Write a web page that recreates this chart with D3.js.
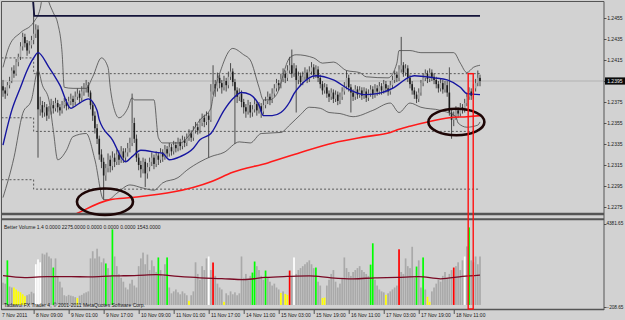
<!DOCTYPE html>
<html>
<head>
<meta charset="utf-8">
<script src="https://cdn.jsdelivr.net/npm/d3@7"></script>
<style>
  body { margin: 0; background: #d2d2d2; }
  svg { display: block; }
  text { font-family: "Liberation Sans", Arial, sans-serif; }
</style>
</head>
<body>
<svg id="drawing_region"></svg>
<script>
// H1 bars, prices in pips above 1.2000 (395 -> 1.2395)
const opens = [
  390,386,383,391,395,405,402,413,418,428, 437,431,424,429,434,440,444,368,372,365,
  370,362,366,372,369,374,370,367,372,375, 371,376,378,375,380,383,379,385,388,391,
  384,372,362,350,340,325,318,305,312,320, 314,322,318,325,320,328,322,327,331,336,
  355,340,322,315,311,318,307,313,318,322, 316,324,320,327,323,330,326,332,328,334,
  331,337,333,339,336,341,345,341,348,351, 348,355,360,356,362,358,385,392,388,398,
  393,389,395,391,399,404,394,386,380,383, 375,370,366,372,365,368,373,367,371,366,
  372,376,380,377,383,388,393,391,397,402, 398,405,410,402,407,396,400,394,399,403,
  397,404,408,401,406,398,392,386,389,383, 380,384,378,382,376,380,385,390,398,389,
  384,380,387,382,386,381,385,379,383,387, 382,388,385,390,386,392,388,385,391,396,
  401,398,406,410,403,407,398,392,386,382, 378,384,393,398,402,397,403,399,396,392,
  388,393,387,391,384,365,358,362,367,364, 370,368,374,380,385,381,388,393,398
];
const highs = [
  396,389,394,399,408,410,416,421,432,441, 440,434,433,438,478,449,448,380,376,375,
  373,371,378,376,379,377,373,376,379,378, 380,383,381,385,388,386,390,393,396,394,
  386,375,366,354,343,330,322,316,326,324, 328,326,330,329,333,331,331,336,341,383,
  360,344,326,319,322,321,317,322,327,325, 328,327,331,330,334,333,336,335,338,337,
  341,340,343,342,345,349,348,352,356,354, 359,364,363,366,365,392,410,396,403,401,
  396,400,398,404,412,407,397,389,388,386, 378,373,377,375,372,378,376,375,374,377,
  380,385,383,388,392,397,396,402,407,405, 410,418,425,412,410,404,403,404,408,406,
  409,413,411,410,409,401,395,393,392,386, 388,387,386,385,384,389,394,405,401,392,
  387,391,390,390,389,389,388,387,391,390, 392,391,394,393,396,395,391,395,400,405,
  404,410,437,413,411,410,401,395,389,385, 388,396,402,406,405,407,406,402,399,395,
  397,396,395,395,408,368,366,371,370,374, 373,378,384,389,388,392,397,405,401
];
const lows = [
  380,378,381,388,393,398,400,409,415,424, 427,419,421,426,430,436,322,362,360,361,
  357,359,363,364,366,365,362,364,369,367, 368,372,370,372,377,374,376,381,384,380,
  368,357,345,335,320,312,282,300,308,308, 310,313,315,315,317,317,318,323,327,333,
  336,318,310,303,307,294,302,309,314,311, 313,315,317,318,320,322,323,324,325,327,
  328,329,330,332,333,338,337,338,345,344, 345,352,351,353,322,356,382,380,385,388,
  383,386,385,388,396,390,335,374,376,370, 364,360,363,360,361,365,362,364,360,363,
  369,373,372,374,380,385,386,388,394,393, 395,402,398,399,365,392,390,391,396,393,
  394,401,397,398,394,388,382,383,379,375, 377,374,375,372,373,377,382,387,385,365,
  376,377,378,379,377,378,375,376,380,378, 379,381,382,382,383,384,381,382,388,393,
  394,395,403,399,400,394,388,382,378,374, 375,381,390,395,393,394,395,392,388,384,
  385,383,384,380,362,340,352,358,360,361, 364,365,371,377,377,378,385,390,390
];
const closes = [
  386,383,391,395,405,402,413,418,428,437, 431,424,429,434,440,444,368,372,365,370,
  362,366,372,369,374,370,367,372,375,371, 376,378,375,380,383,379,385,388,391,384,
  372,362,350,340,325,318,305,312,320,314, 322,318,325,320,328,322,327,331,336,355,
  340,322,315,311,318,307,313,318,322,316, 324,320,327,323,330,326,332,328,334,331,
  337,333,339,336,341,345,341,348,351,348, 355,360,356,362,358,385,392,388,398,393,
  389,395,391,399,404,394,386,380,383,375, 370,366,372,365,368,373,367,371,366,372,
  376,380,377,383,388,393,391,397,402,398, 405,410,402,407,396,400,394,399,403,397,
  404,408,401,406,398,392,386,389,383,380, 384,378,382,376,380,385,390,398,389,384,
  380,387,382,386,381,385,379,383,387,382, 388,385,390,386,392,388,385,391,396,401,
  398,406,410,403,407,398,392,386,382,378, 384,393,398,402,397,403,399,396,392,388,
  393,387,391,384,365,358,362,367,364,370, 368,374,380,385,381,388,393,398,395
];

const volumes = [
  1150,1100,2300,950,900,900,800,700,650,550, 450,500,550,680,600,2100,2350,2200,2650,2600,
  2700,2500,2400,1930,2400,1500,1200,900,500,450, 520,480,450,400,360,480,520,600,650,700,
  2400,2770,2400,2900,2500,2200,2400,2140,1900,1500, 3900,2500,2000,1600,1400,1200,900,800,1100,1300,
  1000,900,2000,2400,2700,2100,2600,1800,2300,2000, 1700,2450,1800,1500,2100,2450,900,600,700,800,
  650,550,700,600,500,210,500,700,2200,1600, 1300,2000,1800,2400,2500,1800,2190,1500,1100,900,
  800,160,600,500,700,550,650,500,600,2500, 1400,1600,1300,1500,1670,2240,2000,1800,1500,1300,
  1775,1400,1200,1000,1100,900,800,620,700,570, 520,1775,1500,2450,1600,1800,1900,2000,2100,2200,
  2300,2100,1900,1930,1200,1000,360,380,1000,1300, 1600,1800,1200,900,1100,1400,2450,1900,1700,1500,
  1700,1800,1900,2000,1800,1700,1600,1500,2080,3180, 1300,1000,800,700,650,520,600,700,800,900,
  1000,2870,1700,1600,2400,2000,1900,3000,1400,1980, 2300,900,2450,800,420,160,700,900,1100,1300,
  1200,1500,1700,1400,1600,1800,1930,2000,2200,1800, 2300,2500,3020,4000,2300,2200,2500,2100,2500
];
// g gray, G green, R red, Y yellow, W white
const volumeKinds =
  "ggGggYYYYY" + "YggggWWWgg" + "gggGgggggg" + "ggggYggggg" + "gggggggGgg" +
  "Gggggggggg" + "gggggggggg" + "gGgggGgggg" + "gggggYgggg" + "ggggWgRggg" +
  "gYgggggggg" + "ggggGGgggg" + "GggggggYgY" + "YRgWgggggg" + "gggGggYYgg" +
  "gggggggggg" + "ggggggggGG" + "gggggYgggg" + "gRgggggggG" + "ggGgYYgggg" +
  "ggggggRggg" + "gWgGggggg";
const volumeMa = [[0,1510],[10,1410],[20,1460],[30,1460],[40,1450],[50,1500],[60,1510],[70,1560],
  [80,1470],[90,1400],[100,1360],[110,1310],[120,1420],[130,1470],[140,1500],[150,1400],[160,1350],
  [170,1400],[180,1420],[190,1460],[200,1350],[210,1470],[218,1543]];

// indicator lines: [bar, pips]
const blueMa = [[0,334],[4,367],[8,389],[11,405],[14,417],[16,422],[21,408],[26,391],[31,369],[35,374],
  [39,378],[43,367],[44,358],[50,339],[56,318],[59,323],[63,329],[70,327],[73,326],[76,320],[81,323],
  [87,331],[90,339],[95,345],[101,367],[105,378],[109,384],[113,382],[117,372],[119,362],[123,362],
  [127,365],[131,375],[133,383],[136,391],[143,400],[151,396],[159,386],[165,382],[171,383],[178,388],
  [186,399],[188,400],[197,398],[203,396],[209,389],[212,383],[218,382]];
const upperBand = [[0,408],[3,429],[8,441],[14,451],[17,464],[19,486],[21,470],[23,460],[25,450],[27,422],
  [28,389],[32,388],[38,388],[41,399],[45,417],[48,408],[49,389],[51,367],[53,360],[57,369],[59,379],
  [60,377],[69,377],[71,341],[73,336],[81,336],[85,343],[90,358],[95,369],[96,380],[99,402],[105,426],
  [110,420],[113,415],[117,389],[119,377],[122,377],[125,382],[131,417],[134,420],[142,417],[146,412],
  [151,413],[157,405],[163,403],[166,399],[176,398],[180,412],[181,424],[186,424],[191,422],[206,422],
  [209,412],[212,403],[215,408],[218,410]];
const lowerBand = [[0,284],[5,322],[9,364],[13,377],[16,405],[18,391],[21,377],[23,348],[25,320],[29,329],
  [32,342],[38,345],[42,320],[46,282],[48,282],[52,288],[58,296],[64,293],[69,291],[73,298],[80,303],
  [84,310],[90,318],[95,323],[101,327],[108,337],[113,336],[118,345],[127,346],[131,353],[136,363],
  [140,370],[145,369],[149,365],[154,364],[160,361],[169,367],[177,374],[181,365],[186,374],[191,370],
  [200,367],[207,361],[208,355],[212,351],[217,353],[218,356]];
const redMa = [[28,263],[34,269],[49,282],[59,284],[95,299],[105,308],[121,317],[136,327],[151,336],
  [166,342],[177,346],[181,349],[186,352],[194,356],[204,360],[212,361],[218,362]];

// stepped dotted levels, they change at bar 14
const levelBreakBar = 14;
const levelsBefore = [417, 360, 301];
const levelsAfter = [402, 347, 292];
const trendLine = [[13.7, 472], [14.3, 457], [218, 457]];
const bidPrice = 395;

const priceTicks = [455, 435, 415, 395, 375, 355, 335, 315, 295, 275];
const volumeRange = [-208.65, 4381.65];
const timeBars = [0, 14, 30, 46, 62, 78, 94, 110, 126, 142, 158, 174, 190, 206];
const timeLabels = ["7 Nov 2011", "8 Nov 09:00", "9 Nov 01:00", "9 Nov 17:00", "10 Nov 09:00",
  "11 Nov 01:00", "11 Nov 17:00", "14 Nov 11:00", "15 Nov 03:00", "15 Nov 19:00", "16 Nov 11:00",
  "17 Nov 03:00", "17 Nov 19:00", "18 Nov 11:00"];

// hand drawn marks
const circles = [{bar: 46.6, price: 280, rBars: 12.8, rPips: 12.6},
                 {bar: 207.2, price: 356, rBars: 12.8, rPips: 12.6}];
const highlight = {from: 212.6, to: 214.9, price: 402};

const volumeColors = {g: '#a9a9a9', G: '#00ff00', R: '#ff0000', Y: '#ffff00', W: '#ffffff'};

class MtChart {
    constructor(config) {
        this.config = config;
        this.init();
    }

    init() {
        let self = this;
        const c = self.config;

        self.svg = d3.select(c.parent)
            .attr('width', c.width)
            .attr('height', c.height);

        self.svg.append('rect')
            .attr('width', c.width).attr('height', c.height)
            .attr('fill', '#d2d2d2');

        self.xscale = d3.scaleLinear()
            .domain([0, closes.length - 1])
            .range([c.firstBarX, c.lastBarX]);
        self.yscale = d3.scaleLinear()
            .domain([275, 455])
            .range([207, 18]);
        self.vscale = d3.scaleLinear()
            .domain(volumeRange)
            .range([c.vol.bottom, c.vol.top]);

        const defs = self.svg.append('defs');
        defs.append('clipPath').attr('id', 'clip-main')
            .append('rect')
            .attr('x', c.left).attr('y', c.main.top)
            .attr('width', c.right - c.left).attr('height', c.main.bottom - c.main.top);

        self.main = self.svg.append('g').attr('clip-path', 'url(#clip-main)');
        self.vol = self.svg.append('g');
        self.top = self.svg.append('g');
    }

    render() {
        let self = this;
        const c = self.config;
        const xs = self.xscale, ys = self.yscale, vs = self.vscale;
        const bars = d3.range(closes.length);

        // dotted levels
        levelsBefore.forEach((lv, k) => {
            const p = d3.path();
            p.moveTo(c.left, ys(lv));
            p.lineTo(xs(levelBreakBar), ys(lv));
            p.lineTo(xs(levelBreakBar), ys(levelsAfter[k]));
            p.lineTo(xs(closes.length - 1), ys(levelsAfter[k]));
            self.main.append('path')
                .attr('d', p.toString())
                .attr('fill', 'none')
                .attr('stroke', '#3a3a3a')
                .attr('stroke-width', 0.8)
                .attr('stroke-dasharray', '2,2');
        });

        // bid line
        self.main.append('line')
            .attr('x1', c.left).attr('x2', c.right)
            .attr('y1', ys(bidPrice)).attr('y2', ys(bidPrice))
            .attr('stroke', '#b2b2b2').attr('stroke-width', 1);

        // candles
        self.main.append('g').selectAll('line')
            .data(bars).join('line')
            .attr('x1', i => xs(i)).attr('x2', i => xs(i))
            .attr('y1', i => ys(highs[i])).attr('y2', i => ys(lows[i]))
            .attr('stroke', '#2a2a2a').attr('stroke-width', 0.8);
        self.main.append('g').selectAll('rect')
            .data(bars).join('rect')
            .attr('x', i => xs(i) - 0.8)
            .attr('width', 1.6)
            .attr('y', i => ys(Math.max(opens[i], closes[i])))
            .attr('height', i => Math.max(0.7, Math.abs(ys(opens[i]) - ys(closes[i]))))
            .attr('fill', i => closes[i] >= opens[i] ? '#a4a4a4' : '#1c1c1c');

        const line = d3.line()
            .x(d => xs(d[0]))
            .y(d => ys(d[1]))
            .curve(d3.curveMonotoneX);

        [upperBand, lowerBand].forEach(band => {
            self.main.append('path')
                .attr('d', line(band))
                .attr('fill', 'none')
                .attr('stroke', '#4a4a4a')
                .attr('stroke-width', 0.8);
        });

        self.main.append('path')
            .attr('d', line(blueMa))
            .attr('fill', 'none')
            .attr('stroke', '#1616a0')
            .attr('stroke-width', 1.4);

        self.main.append('path')
            .attr('d', line(redMa))
            .attr('fill', 'none')
            .attr('stroke', '#ff1a1a')
            .attr('stroke-width', 1.6);

        self.main.append('path')
            .attr('d', d3.line().x(d => xs(d[0])).y(d => ys(d[1]))(trendLine))
            .attr('fill', 'none')
            .attr('stroke', '#14143a')
            .attr('stroke-width', 1.8);

        // volume bars
        self.vol.append('g').selectAll('rect')
            .data(bars).join('rect')
            .attr('x', i => xs(i) - 0.85)
            .attr('width', 1.7)
            .attr('y', i => vs(volumes[i]))
            .attr('height', i => vs(0) - vs(volumes[i]))
            .attr('fill', i => volumeColors[volumeKinds.charAt(i)]);

        self.vol.append('path')
            .attr('d', d3.line().x(d => xs(d[0])).y(d => vs(d[1])).curve(d3.curveMonotoneX)(volumeMa))
            .attr('fill', 'none')
            .attr('stroke', '#7a0a24')
            .attr('stroke-width', 1.3);

        // panel frames
        const frame = self.top.append('g')
            .attr('fill', 'none').attr('stroke', '#555');
        frame.append('line').attr('x1', c.left).attr('x2', c.right)
            .attr('y1', c.main.top).attr('y2', c.main.top).attr('stroke-width', 1);
        frame.append('line').attr('x1', c.left).attr('x2', c.right)
            .attr('y1', c.main.bottom + 0.5).attr('y2', c.main.bottom + 0.5).attr('stroke-width', 2.4);
        frame.append('line').attr('x1', c.left).attr('x2', c.right)
            .attr('y1', c.vol.top - 0.8).attr('y2', c.vol.top - 0.8).attr('stroke-width', 2);
        frame.append('line').attr('x1', c.left).attr('x2', c.right)
            .attr('y1', c.vol.bottom + 0.5).attr('y2', c.vol.bottom + 0.5).attr('stroke-width', 1.4);
        frame.append('line').attr('x1', c.left).attr('x2', c.left)
            .attr('y1', c.main.top).attr('y2', c.vol.bottom + 1).attr('stroke-width', 1);
        frame.append('line').attr('x1', c.right).attr('x2', c.right)
            .attr('y1', c.main.top).attr('y2', c.vol.bottom + 1).attr('stroke-width', 1);

        // annotations
        circles.forEach(e => {
            self.top.append('ellipse')
                .attr('cx', xs(e.bar)).attr('cy', ys(e.price))
                .attr('rx', xs(e.bar + e.rBars) - xs(e.bar))
                .attr('ry', ys(e.price - e.rPips) - ys(e.price))
                .attr('fill', 'none')
                .attr('stroke', '#1e0606')
                .attr('stroke-width', 2.6);
        });
        self.top.append('rect')
            .attr('x', xs(highlight.from))
            .attr('width', xs(highlight.to) - xs(highlight.from))
            .attr('y', ys(highlight.price))
            .attr('height', vs(volumeRange[0]) - ys(highlight.price))
            .attr('fill', 'none')
            .attr('stroke', '#ff1010')
            .attr('stroke-width', 1.4);

        // axes
        const priceAxis = d3.axisRight(ys)
            .tickValues(priceTicks)
            .tickSize(2.5)
            .tickFormat(v => (1.2 + v / 10000).toFixed(4));
        const pa = self.top.append('g')
            .attr('transform', `translate(${c.right}, 0)`)
            .call(priceAxis);
        self.styleAxis(pa);
        pa.selectAll('text').attr('x', 3.2).attr('dy', '0.35em');

        // current price box
        self.top.append('rect')
            .attr('x', c.right + 1).attr('y', ys(bidPrice) - 3.6)
            .attr('width', c.width - c.right - 1).attr('height', 7.2)
            .attr('fill', '#0a0a0a');
        self.top.append('text')
            .attr('x', c.right + 3.2).attr('y', ys(bidPrice))
            .attr('dy', '0.35em')
            .attr('font-size', 5)
            .attr('fill', '#f0f0f0')
            .text((1.2 + bidPrice / 10000).toFixed(4));

        const volAxis = d3.axisRight(vs)
            .tickValues(volumeRange)
            .tickSize(2.5)
            .tickFormat(d3.format('.2f'));
        const va = self.top.append('g')
            .attr('transform', `translate(${c.right}, 0)`)
            .call(volAxis);
        self.styleAxis(va);
        va.selectAll('text').attr('x', 2.4)
            .attr('font-size', 4.7)
            .attr('dy', (d, k) => k === 0 ? '-0.1em' : '1.0em');
        va.selectAll('.tick line').attr('transform', (d, k) => k === 0 ? 'translate(0,-2)' : 'translate(0,4)');

        const timeAxis = d3.axisBottom(xs)
            .tickValues(timeBars)
            .tickSize(4)
            .tickFormat((d, k) => timeLabels[k]);
        const ta = self.top.append('g')
            .attr('transform', `translate(0, ${c.vol.bottom + 1})`)
            .call(timeAxis);
        self.styleAxis(ta);
        ta.selectAll('text')
            .attr('text-anchor', 'start')
            .attr('x', (d, k) => k === 0 ? -1.5 : 1.8)
            .attr('y', 6.6)
            .attr('dy', 0);
        ta.selectAll('.tick line').filter((d, k) => k === 0).remove();

        // panel captions
        self.top.append('text')
            .attr('x', 4).attr('y', c.vol.top + 9)
            .attr('font-size', 5)
            .attr('fill', '#1a1a1a')
            .text('Better Volume 1.4 0.0000 2275.0000 0.0000 0.0000 0.0000 1543.0000');
        self.top.append('text')
            .attr('x', 4).attr('y', c.vol.bottom - 2.5)
            .attr('font-size', 5)
            .attr('fill', '#111')
            .text('Tadawul FX Trader 4, \u00a9 2001-2011 MetaQuotes Software Corp.');
    }

    styleAxis(g) {
        g.select('.domain').remove();
        g.selectAll('.tick line').attr('stroke', '#333').attr('stroke-width', 0.8);
        g.selectAll('text')
            .attr('font-size', 5)
            .attr('font-family', '"Liberation Sans", Arial, sans-serif')
            .attr('fill', '#1a1a1a');
    }
}

const config = {
    parent: '#drawing_region',
    width: 625,
    height: 320,
    left: 1.5,
    right: 604,
    firstBarX: 3,
    lastBarX: 480,
    main: {top: 1.5, bottom: 213.5},
    vol: {top: 220, bottom: 309}
};

const chart = new MtChart(config);
chart.render();
</script>
</body>
</html>
